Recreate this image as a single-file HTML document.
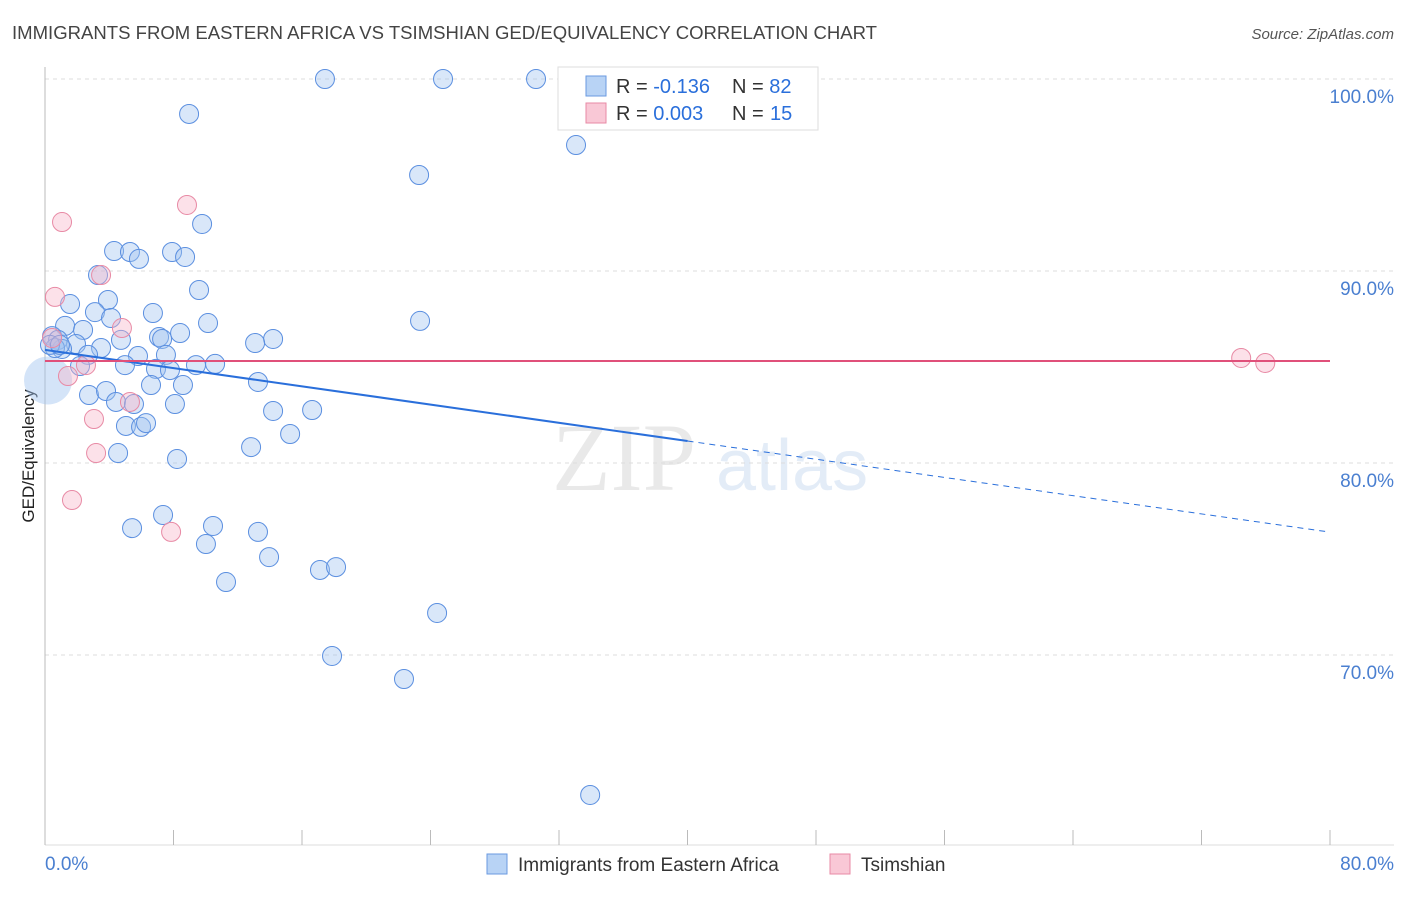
<!DOCTYPE html>
<html><head><meta charset="utf-8"><style>
body{margin:0;background:#fff;font-family:"Liberation Sans",sans-serif;}
</style></head><body>
<svg width="1406" height="892" viewBox="0 0 1406 892" xmlns="http://www.w3.org/2000/svg" font-family="Liberation Sans, sans-serif">
<text x="12" y="39" font-size="18" fill="#444" textLength="865" lengthAdjust="spacingAndGlyphs">IMMIGRANTS FROM EASTERN AFRICA VS TSIMSHIAN GED/EQUIVALENCY CORRELATION CHART</text>
<text x="1394" y="39" font-size="15" fill="#555" font-style="italic" text-anchor="end">Source: ZipAtlas.com</text>
<g opacity="0.18"><text x="552" y="490" font-size="96" font-family="Liberation Serif, serif" fill="#888">ZIP</text><text x="716" y="490" font-size="72" fill="#6a9ad8">atlas</text></g>
<g id="grid"></g>
<line x1="45" y1="67" x2="45" y2="845" stroke="#bbb"/>
<line x1="45" y1="845" x2="1394" y2="845" stroke="#ddd"/>
<g id="xticks"></g>
<text transform="translate(34,456) rotate(-90)" font-size="17" fill="#222" text-anchor="middle">GED/Equivalency</text>
<text x="45" y="870" font-size="19" fill="#4a7fd0">0.0%</text>
<text x="1394" y="870" font-size="19" fill="#4a7fd0" text-anchor="end">80.0%</text>
<g id="pts"></g>
<g id="lines"></g>
<g>
<rect x="558" y="67" width="260" height="63" fill="#fff" stroke="#ddd"/>
<rect x="586" y="76" width="20" height="20" fill="#b8d3f5" stroke="#6a9ae0"/>
<rect x="586" y="103" width="20" height="20" fill="#f9c8d6" stroke="#e88aa5"/>
<text x="616" y="93" font-size="20" fill="#333">R = <tspan fill="#2a6fdb">-0.136</tspan></text>
<text x="732" y="93" font-size="20" fill="#333">N = <tspan fill="#2a6fdb">82</tspan></text>
<text x="616" y="120" font-size="20" fill="#333">R = <tspan fill="#2a6fdb">0.003</tspan></text>
<text x="732" y="120" font-size="20" fill="#333">N = <tspan fill="#2a6fdb" x="770">15</tspan></text>
</g>
<g><rect x="487" y="854" width="20" height="20" fill="#b8d3f5" stroke="#6a9ae0"/><text x="518" y="871" font-size="19" fill="#333">Immigrants from Eastern Africa</text></g>
<g><rect x="830" y="854" width="20" height="20" fill="#f9c8d6" stroke="#e88aa5"/><text x="861" y="871" font-size="19" fill="#333">Tsimshian</text></g>
</svg>
<script>
const yTicks=[70,80,90,100];
const yTickLabels=["70.0%","80.0%","90.0%","100.0%"];
const xTicks=[0,8,16,24,32,40,48,56,64,72,80];
const blueX=[17.43,24.78,30.57,8.97,33.06,23.29,9.78,4.30,5.29,7.91,8.72,5.85,3.30,9.59,1.56,3.92,3.11,6.72,4.11,10.15,1.25,8.41,2.37,7.10,7.29,4.73,14.20,13.08,0.44,0.81,1.93,3.49,1.06,2.68,5.79,7.53,0.62,0.31,4.98,9.40,10.59,6.91,7.78,2.18,13.26,6.60,8.59,2.74,3.80,4.42,5.54,8.09,14.20,16.63,5.04,5.98,6.29,15.26,12.83,4.55,8.22,23.35,7.35,5.42,10.46,13.26,10.02,13.95,11.27,17.12,18.12,24.41,17.87,22.35,33.94,0.93];
const blueY=[100,100,100,98.18,96.56,95.0,92.45,91.04,90.99,90.99,90.73,90.63,89.79,89.01,88.28,88.49,87.86,87.81,87.55,87.29,87.14,86.77,86.93,86.56,86.46,86.41,86.46,86.25,86.61,86.41,86.20,85.99,85.94,85.63,85.57,85.63,85.99,86.15,85.10,85.10,85.16,84.90,84.84,85.05,84.22,84.06,84.06,83.54,83.75,83.18,83.07,83.07,82.71,82.76,81.93,81.88,82.08,81.51,80.83,80.52,80.21,87.40,77.29,76.61,76.72,76.41,75.78,75.10,73.80,74.43,74.58,72.19,69.95,68.75,62.71,86.15];
const pinkX=[1.06,8.84,0.62,3.49,4.79,0.44,1.43,2.55,5.29,3.05,3.18,1.68,7.85,74.47,75.97];
const pinkY=[92.55,93.44,88.65,89.79,87.03,86.51,84.53,85.10,83.18,82.29,80.52,78.07,76.41,85.47,85.21];
const blueTrend=[85.89,76.4];
const pinkTrend=[85.31,85.31];
const NS="http://www.w3.org/2000/svg";
const sx=v=>45+v*(1330-45)/80;
const sy=v=>79+(100-v)*19.2;
function mk(t,a,p){const e=document.createElementNS(NS,t);for(const k in a)e.setAttribute(k,a[k]);p.appendChild(e);return e;}
const grid=document.getElementById('grid');
yTicks.forEach((t,i)=>{
 const l=mk('line',{x1:45,x2:1394,y1:sy(t),y2:sy(t),stroke:'#ddd','stroke-dasharray':'4,4'},grid);
 
 
 const tx=mk('text',{x:1394,y:sy(t)+24,'font-size':19,fill:'#4a7fd0','text-anchor':'end'},grid);
 tx.textContent=yTickLabels[i];
 
 
});
const xt=document.getElementById('xticks');
xTicks.forEach(t=>{
 const l=mk('line',{x1:sx(t),x2:sx(t),y1:830,y2:845,stroke:'#bbb'},xt);
 
 
});
const pts=document.getElementById('pts');
const big=mk('circle',{cx:sx(0.19),cy:sy(84.3),r:24,fill:'rgba(160,196,240,0.45)',stroke:'none'},pts);


blueX.forEach((x,i)=>{
 const c=mk('circle',{cx:sx(x),cy:sy(blueY[i]),r:9.5,fill:'rgba(160,196,240,0.4)',stroke:'#5b8fe0','stroke-width':1},pts);
 
 
});
pinkX.forEach((x,i)=>{
 const c=mk('circle',{cx:sx(x),cy:sy(pinkY[i]),r:9.5,fill:'rgba(248,180,200,0.4)',stroke:'#e88aa5','stroke-width':1},pts);
 
 
});
const ln=document.getElementById('lines');
const bAt=x=>blueTrend[0]+(blueTrend[1]-blueTrend[0])*x/80;
const b1=mk('line',{x1:sx(0),y1:sy(bAt(0)),x2:sx(40),y2:sy(bAt(40)),stroke:'#2a6fdb','stroke-width':2},ln);


const b2=mk('line',{x1:sx(40),y1:sy(bAt(40)),x2:sx(80),y2:sy(bAt(80)),stroke:'#2a6fdb','stroke-width':1,'stroke-dasharray':'6,5'},ln);


const p1=mk('line',{x1:sx(0),y1:sy(pinkTrend[0]),x2:sx(80),y2:sy(pinkTrend[1]),stroke:'#e0507a','stroke-width':2},ln);


</script>
</body></html>
